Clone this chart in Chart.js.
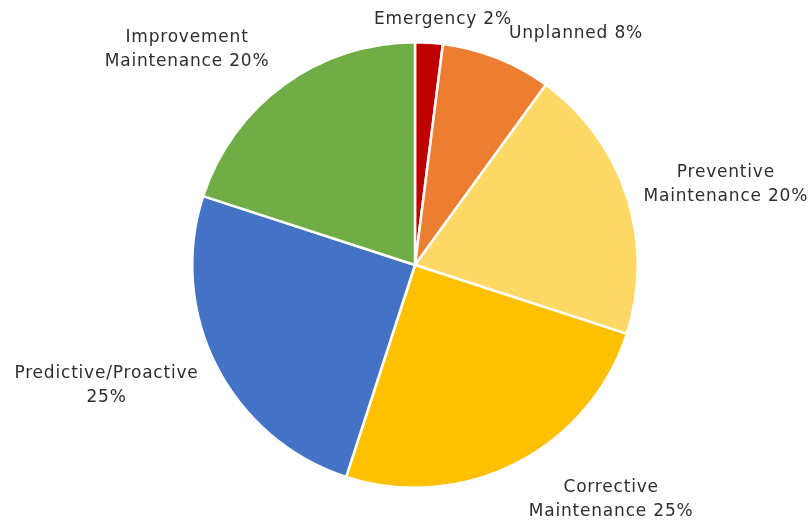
<!DOCTYPE html>
<html>
<head>
<meta charset="utf-8">
<script src="https://cdn.jsdelivr.net/npm/chart.js@4"></script>
<style>
  html, body { margin: 0; padding: 0; background: #fff; }
  #wrap { width: 811px; height: 523px; }
</style>
</head>
<body>
<div id="wrap"><canvas id="c" width="811" height="523"></canvas></div>
<script>
const categories = ["Emergency", "Unplanned", "Preventive Maintenance", "Corrective Maintenance", "Predictive/Proactive", "Improvement Maintenance"];
const values = [2, 8, 20, 25, 25, 20];
const labelLines = [
  ["Emergency 2%"],
  ["Unplanned 8%"],
  ["Preventive", "Maintenance 20%"],
  ["Corrective", "Maintenance 25%"],
  ["Predictive/Proactive", "25%"],
  ["Improvement", "Maintenance 20%"]
];
const colors = ["#C00000", "#ED7D31", "#FFD966", "#FFC000", "#4472C4", "#70AD47"];
// label nudges (px) from each slice's outer mid-point
const labelNudge = [[14, -23], [79, -24], [99, -12], [95, 36], [-110, 19], [-97, -35]];

const FONT = '17px "DejaVu Sans"';

const labelPlugin = {
  id: 'sliceLabels',
  afterDatasetsDraw(chart) {
    const ctx = chart.ctx;
    const meta = chart.getDatasetMeta(0);
    ctx.save();
    ctx.font = FONT;
    if ('letterSpacing' in ctx) ctx.letterSpacing = '0.8px';
    ctx.fillStyle = '#2e2e2e';
    ctx.textAlign = 'center';
    ctx.textBaseline = 'middle';
    meta.data.forEach((arc, i) => {
      const p = arc.getProps(['x', 'y', 'startAngle', 'endAngle', 'outerRadius'], true);
      const mid = (p.startAngle + p.endAngle) / 2;
      const ax = p.x + Math.cos(mid) * p.outerRadius + labelNudge[i][0];
      const ay = p.y + Math.sin(mid) * p.outerRadius + labelNudge[i][1];
      const lines = labelLines[i];
      const lh = 24;
      const y0 = ay - (lines.length - 1) * lh / 2;
      lines.forEach((t, k) => ctx.fillText(t, ax, y0 + k * lh));
    });
    ctx.restore();
  }
};

new Chart(document.getElementById('c'), {
  type: 'pie',
  data: {
    labels: categories,
    datasets: [{
      data: values,
      backgroundColor: colors,
      borderColor: '#ffffff',
      borderWidth: 2.5
    }]
  },
  options: {
    responsive: false,
    animation: false,
    layout: { padding: { left: 191, right: 172, top: 41, bottom: 34 } },
    plugins: { legend: { display: false }, tooltip: { enabled: false } }
  },
  plugins: [labelPlugin]
});
</script>
</body>
</html>
